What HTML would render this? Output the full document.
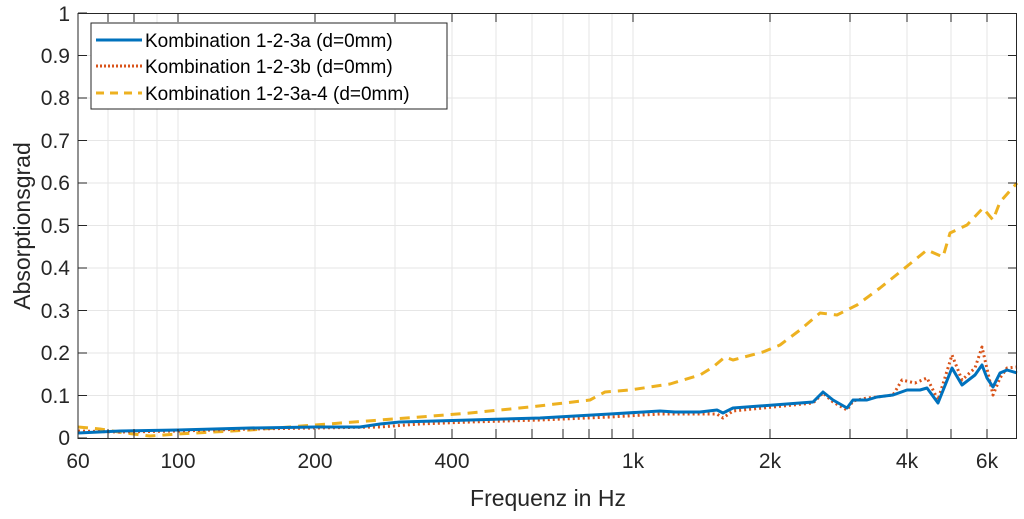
<!DOCTYPE html>
<html><head><meta charset="utf-8"><style>
body{margin:0;background:#fff;}
svg{display:block;font-family:"Liberation Sans",sans-serif;}
</style></head><body>
<svg width="1024" height="519" viewBox="0 0 1024 519">
<rect x="78" y="13" width="939" height="425" fill="#fff"/>
<g stroke="#e6e6e6" stroke-width="1">
<line x1="78" x2="1017" y1="395.5" y2="395.5"/><line x1="78" x2="1017" y1="353" y2="353"/>
<line x1="78" x2="1017" y1="310.5" y2="310.5"/><line x1="78" x2="1017" y1="268" y2="268"/>
<line x1="78" x2="1017" y1="225.5" y2="225.5"/><line x1="78" x2="1017" y1="183" y2="183"/>
<line x1="78" x2="1017" y1="140.5" y2="140.5"/><line x1="78" x2="1017" y1="98" y2="98"/>
<line x1="78" x2="1017" y1="55.5" y2="55.5"/>
<line x1="108" x2="108" y1="13" y2="438"/><line x1="134" x2="134" y1="13" y2="438"/>
<line x1="157" x2="157" y1="13" y2="438"/><line x1="178" x2="178" y1="13" y2="438"/>
<line x1="315" x2="315" y1="13" y2="438"/><line x1="395" x2="395" y1="13" y2="438"/>
<line x1="452" x2="452" y1="13" y2="438"/><line x1="496" x2="496" y1="13" y2="438"/>
<line x1="532" x2="532" y1="13" y2="438"/><line x1="563" x2="563" y1="13" y2="438"/>
<line x1="589" x2="589" y1="13" y2="438"/><line x1="612" x2="612" y1="13" y2="438"/>
<line x1="633" x2="633" y1="13" y2="438"/><line x1="770" x2="770" y1="13" y2="438"/>
<line x1="850" x2="850" y1="13" y2="438"/><line x1="907" x2="907" y1="13" y2="438"/>
<line x1="951" x2="951" y1="13" y2="438"/><line x1="987" x2="987" y1="13" y2="438"/>
</g>
<g fill="none" stroke-linejoin="round">
<polyline stroke="#EDB120" stroke-width="3" stroke-dasharray="10,7" points="78,427 100,429 125,433 150,436 178,434 250,430 315,425 380,420 420,417 470,413 530,407 590,400 605,392 630,390 670,384 700,375 713,367 725,357 733,360 763,352 780,345 800,330 820,313 837,315 857,305 880,288 900,272 927,250 943,257 950,233 967,225 983,208 993,220 1000,202 1017,183"/>
<polyline stroke="#D95319" stroke-width="3" stroke-dasharray="2,3" points="78,431 120,432 178,431 250,429 315,428 380,427 420,424 470,422 540,420 610,417 660,414 700,414 717,414 723,418 733,411 813,403 823,393 833,402 847,410 853,401 867,398 877,397 893,395 902,380 915,383 927,378 938,400 952,355 962,380 975,368 982,347 993,395 1000,378 1007,368 1017,367"/>
<polyline stroke="#0072BD" stroke-width="3" points="78,433 120,431 178,430 250,428 315,427 360,427 380,424 400,422 470,420 540,418 610,414 660,411 675,412 700,412 717,410 723,413 733,408 813,402 823,392 833,400 847,408 853,400 867,400 877,397 893,395 907,390 920,390 927,388 938,403 952,368 962,385 975,375 982,365 987,378 993,387 1000,373 1007,370 1017,373"/>
</g>
<g stroke="#262626" stroke-width="1">
<line x1="78" x2="78" y1="13" y2="439"/><line x1="78" x2="1017" y1="438.5" y2="438.5"/>
<line x1="1016.5" x2="1016.5" y1="13" y2="439"/><line x1="78" x2="1017" y1="13.5" y2="13.5"/>
</g>
<g stroke="#262626" stroke-width="1">
<path d="M78 438h9M78 395.5h9M78 353h9M78 310.5h9M78 268h9M78 225.5h9M78 183h9M78 140.5h9M78 98h9M78 55.5h9M78 13h9"/>
<path d="M1017 395.5h-9M1017 353h-9M1017 310.5h-9M1017 268h-9M1017 225.5h-9M1017 183h-9M1017 140.5h-9M1017 98h-9M1017 55.5h-9"/>
<path d="M108 438v-9M134 438v-9M178 438v-9M315 438v-9M395 438v-9M452 438v-9M496 438v-9M532 438v-9M563 438v-9M589 438v-9M612 438v-9M633 438v-9M770 438v-9M850 438v-9M907 438v-9M951 438v-9M987 438v-9"/>
<path d="M108 13v9M134 13v9M178 13v9M315 13v9M395 13v9M452 13v9M496 13v9M633 13v9M770 13v9M850 13v9M907 13v9M951 13v9M987 13v9"/>
</g>
<g fill="#262626" font-size="21" text-anchor="end">
<text x="70" y="445">0</text><text x="70" y="403">0.1</text><text x="70" y="360">0.2</text>
<text x="70" y="318">0.3</text><text x="70" y="275">0.4</text><text x="70" y="233">0.5</text>
<text x="70" y="190">0.6</text><text x="70" y="148">0.7</text><text x="70" y="105">0.8</text>
<text x="70" y="63">0.9</text><text x="70" y="21">1</text>
</g>
<g fill="#262626" font-size="21" text-anchor="middle">
<text x="78" y="468">60</text><text x="178" y="468">100</text><text x="315" y="468">200</text>
<text x="452" y="468">400</text><text x="633" y="468">1k</text><text x="770" y="468">2k</text>
<text x="907" y="468">4k</text><text x="987" y="468">6k</text>
<text x="548" y="506" font-size="23">Frequenz in Hz</text>
<text transform="translate(30,226) rotate(-90)" font-size="23">Absorptionsgrad</text>
</g>
<rect x="91" y="23" width="356" height="86" fill="#fff" stroke="#262626" stroke-width="1"/>
<line x1="96" x2="142" y1="40" y2="40" stroke="#0072BD" stroke-width="3"/>
<line x1="96" x2="142" y1="66" y2="66" stroke="#D95319" stroke-width="3" stroke-dasharray="2,2"/>
<line x1="96" x2="142" y1="93" y2="93" stroke="#EDB120" stroke-width="3" stroke-dasharray="8,6"/>
<g fill="#000" font-size="19">
<text x="145" y="47">Kombination 1-2-3a (d=0mm)</text>
<text x="145" y="73">Kombination 1-2-3b (d=0mm)</text>
<text x="145" y="100">Kombination 1-2-3a-4 (d=0mm)</text>
</g>
</svg>
</body></html>
